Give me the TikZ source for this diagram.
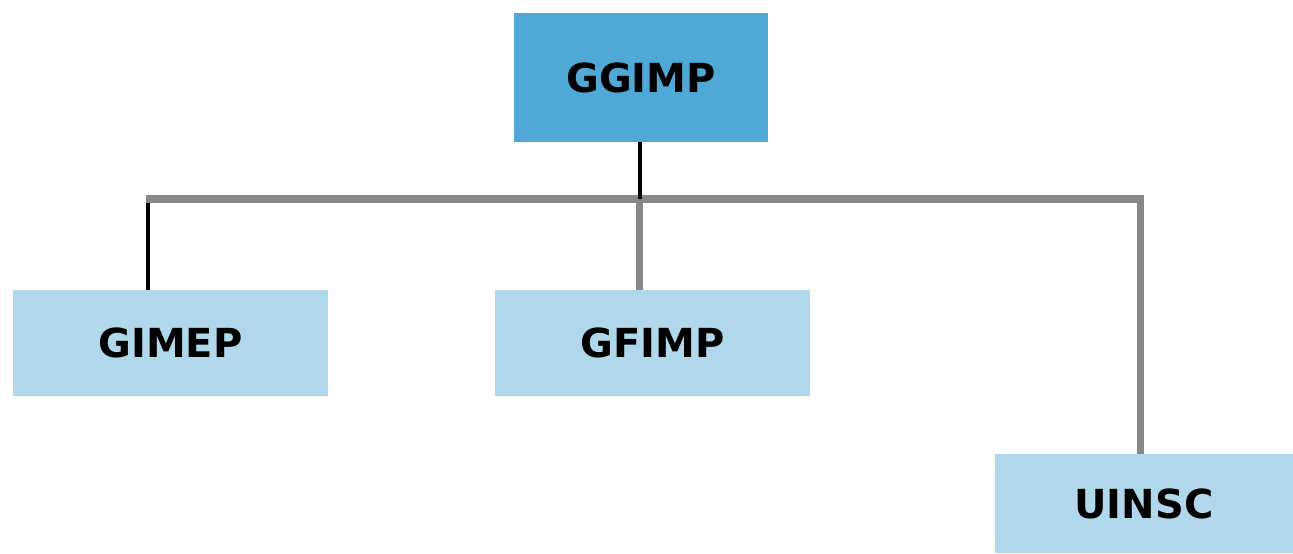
\documentclass[tikz,border=0pt]{standalone}
\usepackage{fontspec}
\setmainfont{DejaVu Sans}
\definecolor{topblue}{HTML}{4FA8D5}
\definecolor{childblue}{HTML}{B0D8EA}
\definecolor{bargray}{HTML}{888888}
\begin{document}
\begin{tikzpicture}[x=1pt,y=-1pt,
  box/.style={inner sep=0pt, outer sep=0pt, font=\fontsize{40}{44}\selectfont\bfseries, text=black},
  topbox/.style={box, fill=topblue, minimum width=254pt, minimum height=129pt},
  childbox/.style={box, fill=childblue, minimum width=315pt, minimum height=106pt},
  blackline/.style={draw=black, line width=4pt},
  grayline/.style={draw=bargray, line width=7pt},
  barline/.style={draw=bargray, line width=8pt}]
\useasboundingbox (0,0) rectangle (1293,554);
\node[topbox] (ggimp) at (641,77.5) {GGIMP};
\node[childbox] (gimep) at (170.5,343) {GIMEP};
\node[childbox] (gfimp) at (652.5,343) {GFIMP};
\node[childbox, minimum width=298pt, minimum height=99pt] (uinsc) at (1144,503.5) {UINSC};
\coordinate (jl) at (148,199);
\coordinate (jm) at (639,199);
\coordinate (jt) at (640,199);
\coordinate (jr) at (1140,199);
\draw[barline] ([xshift=-2pt]jl) -- ([xshift=3.5pt]jr);
\draw[blackline] ([yshift=-4pt]jl) -- (jl |- gimep.north);
\draw[grayline] (jm) -- (jm |- gfimp.north);
\draw[grayline] ([yshift=-4pt]jr) -- (jr |- uinsc.north);
\draw[blackline] (jt |- ggimp.south) -- (jt);
\end{tikzpicture}
\end{document}
